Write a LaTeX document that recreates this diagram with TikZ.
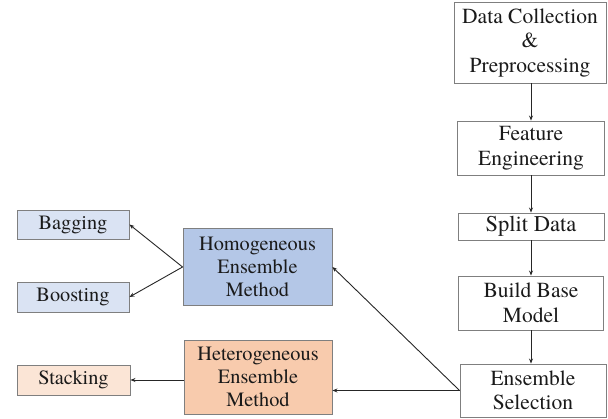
\documentclass[tikz,border=0pt]{standalone}
\usepackage{fontspec}
\setmainfont{texgyretermes}[Extension=.otf, UprightFont=*-regular, BoldFont=*-bold]
\usetikzlibrary{arrows.meta}
\definecolor{bluefill}{HTML}{B4C7E7}
\definecolor{lightblue}{HTML}{DAE3F3}
\definecolor{orangefill}{HTML}{F8CBAD}
\definecolor{lightorange}{HTML}{FBE5D6}
\definecolor{edgegray}{HTML}{7F7F7F}
\definecolor{textgray}{HTML}{1A1A1A}
\tikzset{
  box/.style={draw=edgegray, line width=0.9pt, align=center, inner sep=1pt,
    text=textgray, font=\fontsize{21.5}{24.5}\selectfont},
  cbox/.style={box, font=\fontsize{20.3}{23}\selectfont},
  arr/.style={-{Stealth[length=5pt,width=4pt]}, line width=0.9pt, draw=black!85}
}
\begin{document}
\begin{tikzpicture}[x=1pt,y=-1pt]
\useasboundingbox (0,0) rectangle (608,418);
% right column
\node[box, minimum width=152pt, minimum height=81pt] (dc) at (530,42.5) {Data Collection\\\&\\Preprocessing};
\node[box, minimum width=147pt, minimum height=54pt] (fe) at (531,148) {Feature\\Engineering};
\node[box, minimum width=146pt, minimum height=27pt, font=\fontsize{22.5}{25}\selectfont] (sd) at (531,226.5) {Split Data};
\node[box, minimum width=145pt, minimum height=54pt] (bb) at (531,303) {Build Base\\Model};
\node[box, minimum width=146pt, minimum height=53pt] (es) at (533,390.5) {Ensemble\\Selection};
% middle
\node[cbox, fill=bluefill, minimum width=149pt, minimum height=77pt] (hom) at (257.5,267) {Homogeneous\\Ensemble\\Method};
\node[cbox, fill=orangefill, minimum width=148pt, minimum height=74pt] (het) at (258,377) {Heterogeneous\\Ensemble\\Method};
% left
\node[cbox, fill=lightblue, minimum width=112pt, minimum height=29pt] (bag) at (73,224.5) {Bagging};
\node[cbox, fill=lightblue, minimum width=112pt, minimum height=30pt] (boo) at (73,297) {Boosting};
\node[cbox, fill=lightorange, minimum width=113pt, minimum height=30pt] (sta) at (73.5,380) {Stacking};
% arrows
\draw[arr] (dc.south -| fe.north) -- (fe.north);
\draw[arr] (fe) -- (sd);
\draw[arr] (sd) -- (bb);
\draw[arr] (bb.south) -- (bb.south |- es.north);
\draw[arr] (es.west) -- (es.west -| het.east);
\draw[arr] (es.west) -- (hom.east);
\draw[arr] (hom.west) -- (bag.east);
\draw[arr] (hom.west) -- (boo.east);
\draw[arr] (het.west |- sta.east) -- (sta.east);
\end{tikzpicture}
\end{document}
